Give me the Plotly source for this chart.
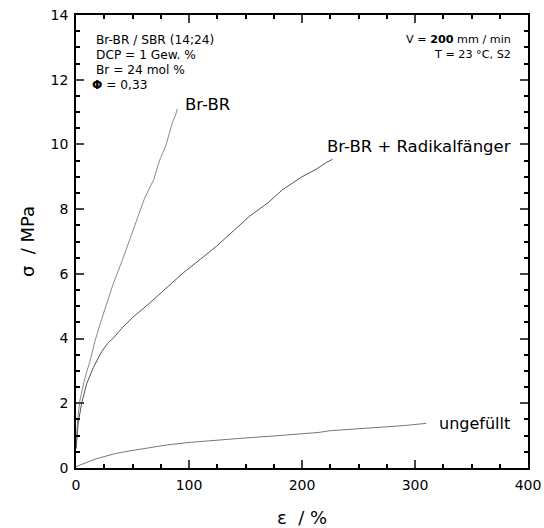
import plotly.graph_objects as go

# Br-BR
brbr_x = [0, 0.6, 1.5, 3.5, 8, 12.4, 17, 22.7, 30.9, 33, 41.2, 50, 55, 60.3, 66, 69, 72, 75, 79.4, 82, 85.3, 88, 89.7]
brbr_y = [0.6, 1.0, 1.5, 2.1, 2.8, 3.3, 3.95, 4.6, 5.45, 5.7, 6.44, 7.27, 7.75, 8.3, 8.72, 8.92, 9.3, 9.6, 9.95, 10.3, 10.67, 10.9, 11.1]

# Br-BR + Radikalfänger
rad_x = [0, 0.6, 2, 5, 9.4, 15.3, 22.7, 28, 32.9, 40, 50, 65.3, 80, 94.8, 110, 124.2, 140, 153.6, 170, 183, 200, 212.4, 222, 227]
rad_y = [0.6, 0.95, 1.4, 2.0, 2.6, 3.1, 3.6, 3.85, 4.01, 4.3, 4.65, 5.1, 5.55, 6.03, 6.45, 6.85, 7.35, 7.78, 8.2, 8.61, 9.0, 9.23, 9.45, 9.54]

# ungefüllt
ung_x = [0, 5, 10, 16.8, 24, 35, 47.7, 59, 80, 100, 125, 147, 175, 200, 215, 224, 245, 265, 290, 310]
ung_y = [0.04, 0.1, 0.18, 0.27, 0.35, 0.45, 0.53, 0.6, 0.71, 0.79, 0.87, 0.92, 0.99, 1.06, 1.1, 1.15, 1.2, 1.25, 1.31, 1.38]

x_ticks = [0, 100, 200, 300, 400]
y_ticks = [0, 2, 4, 6, 8, 10, 12, 14]

fig = go.Figure()
fig.add_trace(go.Scatter(x=brbr_x, y=brbr_y, mode="lines", line=dict(color="#8a8a8a", width=1), name="Br-BR"))
fig.add_trace(go.Scatter(x=rad_x, y=rad_y, mode="lines", line=dict(color="#555555", width=1), name="Br-BR + Radikalfänger"))
fig.add_trace(go.Scatter(x=ung_x, y=ung_y, mode="lines", line=dict(color="#777777", width=1), name="ungefüllt"))

font_family = "DejaVu Sans, Arial, sans-serif"

# positions measured on the reference image; plot area there: x 76..528, y 15..468
def px_x(p):
    return (p - 76) / 452.0

def px_y(p):
    return (468 - p) / 453.0

info_left = ["Br-BR / SBR (14;24)", "DCP = 1 Gew. %", "Br = 24 mol %", "<b>Φ</b> = 0,33"]
info_left_y = [40, 54.5, 70, 85]
info_left_x = [94, 94, 94, 90]
info_right = ["V = <b>200</b> mm / min", "T = 23 °C, S2"]
info_right_y = [40, 54]

annotations = [
    dict(x=94.5, y=11.22, text="Br-BR", xanchor="left", yanchor="middle", font=dict(size=16.5)),
    dict(x=220.5, y=9.93, text="Br-BR + Radikalfänger", xanchor="left", yanchor="middle", font=dict(size=16.5)),
    dict(x=319.5, y=1.37, text="ungefüllt", xanchor="left", yanchor="middle", font=dict(size=16)),
]
for t, yy, xx in zip(info_left, info_left_y, info_left_x):
    annotations.append(dict(x=px_x(xx), y=px_y(yy), xref="paper", yref="paper", xanchor="left",
                            yanchor="middle", text=t, font=dict(size=12.2)))
for t, yy in zip(info_right, info_right_y):
    annotations.append(dict(x=px_x(513), y=px_y(yy), xref="paper", yref="paper", xanchor="right",
                            yanchor="middle", text=t, font=dict(size=11.2)))
for a in annotations:
    a.setdefault("xref", "x")
    a.setdefault("yref", "y")
    a["showarrow"] = False
    a["font"]["color"] = "black"
    a["font"]["family"] = font_family

fig.update_layout(
    width=544, height=528,
    margin=dict(l=76, r=16, t=15, b=60),
    paper_bgcolor="white", plot_bgcolor="white",
    showlegend=False,
    font=dict(family=font_family, color="black", size=14),
    annotations=annotations,
    xaxis=dict(range=[0, 400], tickvals=x_ticks, ticks="inside", ticklen=8, tickwidth=1.5,
               showline=True, linecolor="black", linewidth=1.5, mirror="ticks", showgrid=False, zeroline=False,
               automargin=False,
               minor=dict(ticks="inside", dtick=25, ticklen=4, tickwidth=1.5, tickcolor="black", showgrid=False),
               title=dict(text="ε  / %", font=dict(size=18), standoff=25),
               ticklabelstandoff=3,
               tickfont=dict(size=14)),
    yaxis=dict(range=[0, 14], tickvals=y_ticks, ticks="inside", ticklen=8, tickwidth=1.5,
               showline=True, linecolor="black", linewidth=1.5, mirror="ticks", showgrid=False, zeroline=False,
               automargin=False,
               minor=dict(ticks="inside", dtick=0.5, ticklen=4, tickwidth=1.5, tickcolor="black", showgrid=False),
               title=dict(text="σ  / MPa", font=dict(size=18), standoff=11),
               ticklabelstandoff=3,
               tickfont=dict(size=14)),
)

fig.write_html(
    "out.html",
    config={"displayModeBar": False},
    post_script="document.body.style.margin='0';document.body.style.overflow='hidden';",
)
